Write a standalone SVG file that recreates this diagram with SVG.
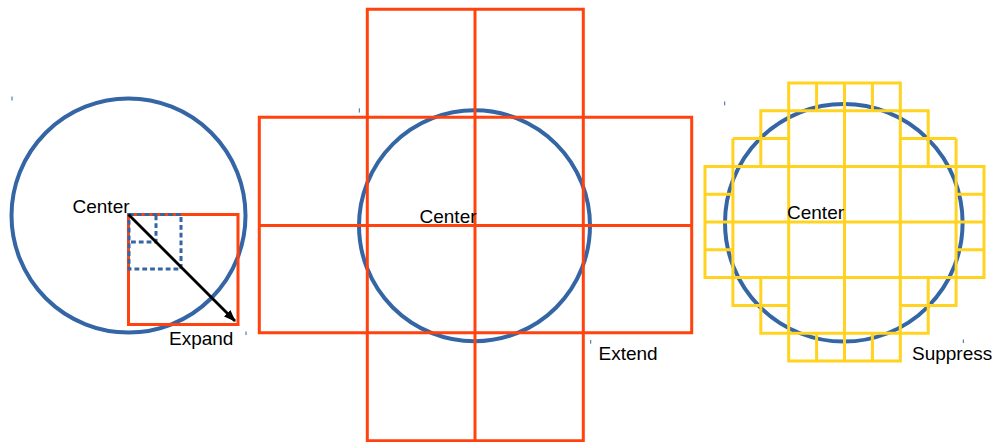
<svg xmlns="http://www.w3.org/2000/svg" width="995" height="442" viewBox="0 0 995 442">
<defs>
<style>
.circ{fill:none;stroke:#3465a4;stroke-width:4}
.red{fill:none;stroke:#ff420e;stroke-width:3}
.yel{fill:none;stroke:#ffd320;stroke-width:3}
.dash{fill:none;stroke:#3465a4;stroke-width:3;stroke-dasharray:4.8 3}
.tick{stroke:#3465a4;stroke-width:1}
.lbl{font-family:"Liberation Sans",Arial,sans-serif;font-size:19px;fill:#000}
</style>
<marker id="ah" markerWidth="12" markerHeight="10" refX="11" refY="5" orient="auto" markerUnits="userSpaceOnUse" viewBox="0 0 12 10">
<path d="M0,0.5 L12,5 L0,9.5 Z" fill="#000"/>
</marker>
</defs>
<rect width="995" height="442" fill="#fff"/>

<g id="panel-expand">
<circle class="circ" cx="128.5" cy="215.5" r="117"/>
<rect class="red" x="128.5" y="214.5" width="109.5" height="110"/>
<rect class="dash" x="129" y="214.5" width="52" height="54.5"/>
<path class="dash" d="M131,242 H156 V214.5"/>
<line class="tick" x1="12" y1="96.5" x2="12" y2="100.5"/>
<line class="tick" x1="246" y1="331.5" x2="246" y2="335"/>
<text class="lbl" x="72.5" y="212.5">Center</text>
<text class="lbl" x="169" y="345">Expand</text>
</g>

<g id="panel-extend">
<circle class="circ" cx="474.5" cy="225.8" r="115.5"/>
<path class="red" d="M367.3,9.3 H583.3 V440.7 H367.3 Z M259.3,117.3 H691.7 V332.7 H259.3 Z M475,9.3 V440.7 M259.3,225.5 H691.7"/>
<line class="tick" x1="359.3" y1="108.3" x2="359.3" y2="112.5"/>
<line class="tick" x1="590.7" y1="340" x2="590.7" y2="343.7"/>
<text class="lbl" x="419.5" y="222.5">Center</text>
<text class="lbl" x="598.5" y="359.5">Extend</text>
</g>

<g id="panel-suppress">
<circle class="circ" cx="843.8" cy="222.8" r="118.8"/>
<path class="yel" d="
M788.7,83 H900.3 V110.8 H788.7 Z M816.6,83 V110.8 M844.5,83 V110.8 M872.4,83 V110.8
M760.8,110.8 H928.2 V166.4 H760.8 Z M788.7,110.8 V166.4 M844.5,110.8 V166.4 M900.3,110.8 V166.4
M732.9,138.6 H788.7 M900.3,138.6 H956.1 M732.9,138.6 V166.4 M956.1,138.6 V166.4
M705,166.4 H984 V277.6 H705 Z M705,222 H984 M732.9,166.4 V277.6 M788.7,166.4 V277.6 M844.5,166.4 V277.6 M900.3,166.4 V277.6 M956.1,166.4 V277.6
M705,194.2 H732.9 M956.1,194.2 H984 M705,249.8 H732.9 M956.1,249.8 H984
M732.9,277.6 V305.4 H788.7 M956.1,277.6 V305.4 H900.3 M760.8,277.6 V333.2 H928.2 V277.6
M788.7,277.6 V361 H900.3 V277.6 M844.5,277.6 V361 M816.6,333.2 V361 M872.4,333.2 V361"/>
<line class="tick" x1="724.7" y1="101.5" x2="724.7" y2="105.3"/>
<line class="tick" x1="963.3" y1="339.5" x2="963.3" y2="343"/>
<text class="lbl" x="787" y="219">Center</text>
<text class="lbl" x="912" y="359.5">Suppress</text>
</g>

<g id="connectors">
<line x1="128.5" y1="214.5" x2="235" y2="321" stroke="#000" stroke-width="2.8" marker-end="url(#ah)"/>
</g>
</svg>
